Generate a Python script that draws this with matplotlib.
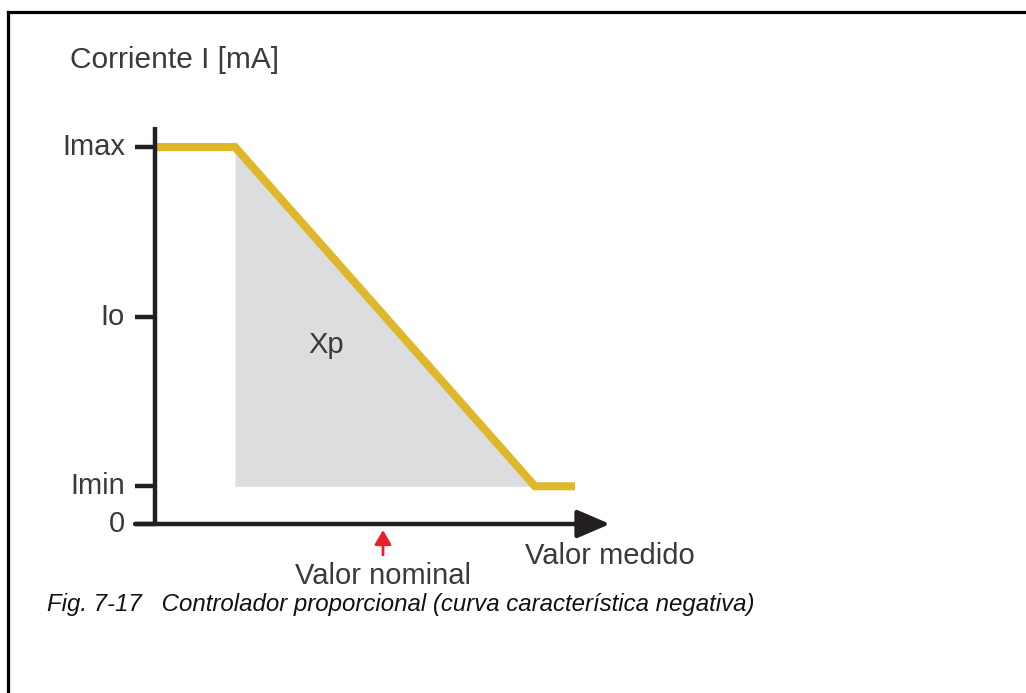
import matplotlib
matplotlib.use("Agg")
import matplotlib.pyplot as plt
from matplotlib.lines import Line2D

# ---- data ----
y_tick_labels = ["Imax", "Io", "Imin", "0"]
I_max = 20.0
I_min = 2.0
I_o = (I_max + I_min) / 2
y_tick_values = [I_max, I_o, I_min, 0.0]
curve_x = [0, 4, 19, 21]
curve_y = [I_max, I_max, I_min, I_min]
nominal_x = 11.5
x_axis_end = 22.75
y_axis_top = 21.06

gold = "#dfb72a"
gray_fill = "#dcdddf"
txt = "#3a3a3a"

W, H = 1026, 693
fig = plt.figure(figsize=(W / 100, H / 100), dpi=100)
ax = fig.add_axes([0, 0, 1, 1])
# layout: 20 px per x unit, 18.85 px per y unit, origin at (155, 524) px
ax.set_xlim(-155 / 20, (W - 155) / 20)
ax.set_ylim(-(H - 524) / 18.85, 524 / 18.85)
ax.axis("off")

# frame (top and left border lines)
fig.add_artist(Line2D([8 / W, 1], [1 - 12 / H, 1 - 12 / H], color="black", lw=2.3,
                      transform=fig.transFigure, solid_capstyle="projecting"))
fig.add_artist(Line2D([8 / W, 8 / W], [1 - 12 / H, 0], color="black", lw=2.3,
                      transform=fig.transFigure, solid_capstyle="projecting"))

# gray Xp area
ax.fill_between([curve_x[1], curve_x[2]], [I_max, I_min], [I_min, I_min],
                color=gray_fill, lw=0, zorder=1)

# characteristic curve
ax.plot(curve_x, curve_y, color=gold, lw=5.8, solid_joinstyle="miter",
        solid_capstyle="butt", zorder=3)

# axes
ax.plot([0, 0], [0, y_axis_top], color="#231f20", lw=3.2, solid_capstyle="butt", zorder=4)
ax.annotate("", xy=(x_axis_end, 0), xytext=(-1.0, 0),
            arrowprops=dict(arrowstyle="-|>,head_length=20,head_width=8.6",
                            mutation_scale=1, color="#231f20", lw=3.2,
                            shrinkA=0, shrinkB=0), zorder=4)
ax.hlines(y_tick_values, -1.0, 0, color="#231f20", lw=3.2, zorder=4)

# tick labels
for lab, v in zip(y_tick_labels, y_tick_values):
    ax.text(-1.5, v, lab, ha="right", va="center", fontsize=21,
            family="Liberation Sans", color=txt)

# nominal marker
ax.annotate("", xy=(nominal_x - 0.1, -0.32), xytext=(nominal_x - 0.1, -1.64),
            arrowprops=dict(arrowstyle="-|>,head_length=8.6,head_width=5.0",
                            mutation_scale=1, color="#e8202a", lw=2.0,
                            shrinkA=0, shrinkB=0))

ax.text(-4.25, 24.6, "Corriente I [mA]", ha="left", va="center", fontsize=21.5,
        family="Liberation Sans", color=txt)
ax.text(8.55, 9.5, "Xp", ha="center", va="center", fontsize=21,
        family="Liberation Sans", color=txt)
ax.text(nominal_x - 0.1, -2.75, "Valor nominal", ha="center", va="center", fontsize=21,
        family="Liberation Sans", color=txt)
ax.text(18.5, -1.7, "Valor medido", ha="left", va="center", fontsize=21,
        family="Liberation Sans", color=txt)

fig.text(47 / W, 1 - 605 / H,
         "Fig. 7-17   Controlador proporcional (curva característica negativa)",
         ha="left", va="center", fontsize=17.3, style="italic",
         family=["Liberation Sans Narrow", "Liberation Sans"], color="#111111")

fig.savefig("out.png", dpi=100)
